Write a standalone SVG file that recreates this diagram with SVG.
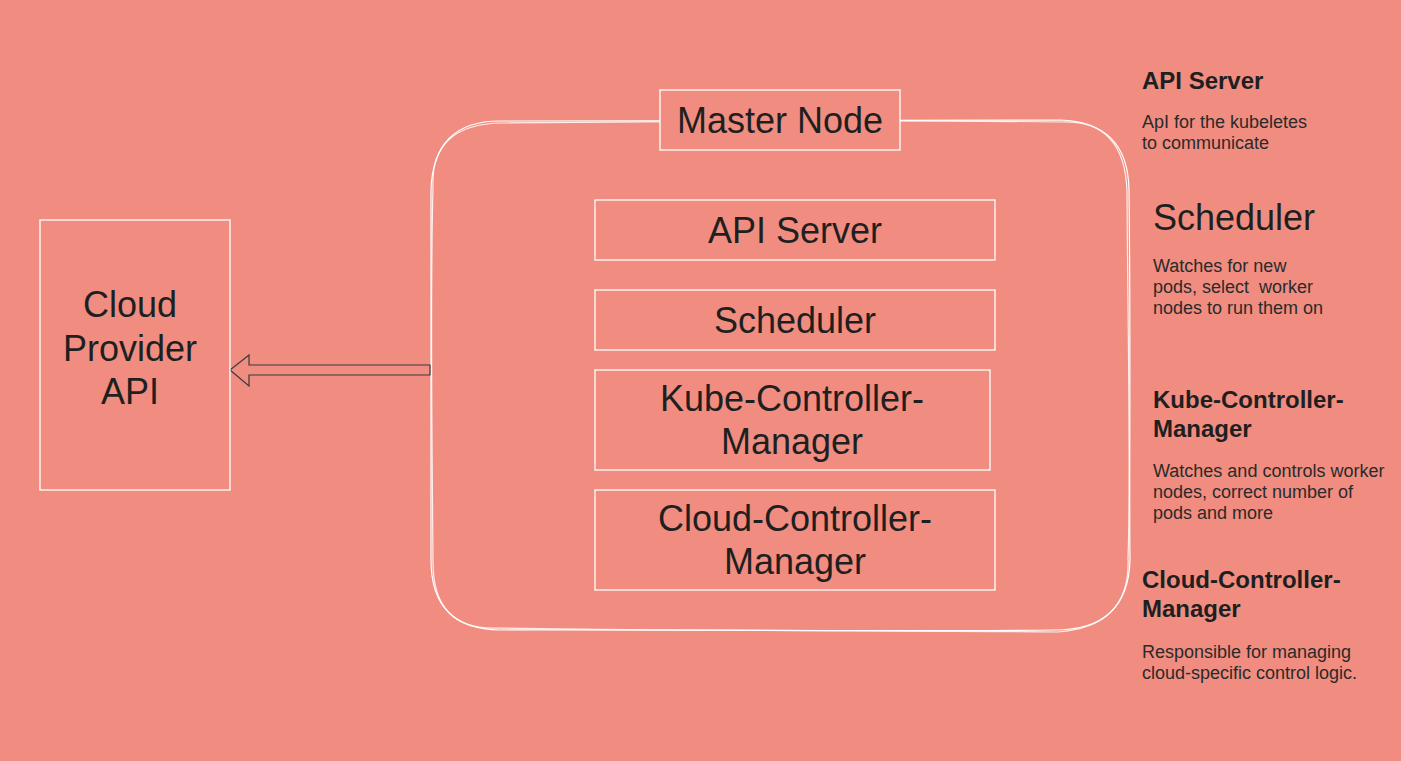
<svg xmlns="http://www.w3.org/2000/svg" width="1401" height="761" viewBox="0 0 1401 761">
<style>
.box{fill:#F08D80;stroke:#ffffff;stroke-width:1.3}
.big{font-family:"Liberation Sans",Arial,sans-serif;font-size:36px;fill:#1f1f1f;text-anchor:middle}
.h{font-family:"Liberation Sans",Arial,sans-serif;font-size:24px;font-weight:bold;fill:#1f1f1f}
.hs{font-family:"Liberation Sans",Arial,sans-serif;font-size:36px;fill:#1f1f1f}
.d{font-family:"Liberation Sans",Arial,sans-serif;font-size:18px;fill:#2a2a2a}
.sk{fill:none;stroke:#ffffff;stroke-width:1.2}
</style>
<rect x="0" y="0" width="1401" height="761" fill="#F08D80"/>
<g id="master-container">
<path class="sk" d="M500 121 C700 119 900 122 1060 120 Q1128 122 1129 190 C1131 350 1129 480 1130 560 Q1128 630 1055 630 C850 632 650 629 500 630 Q431 629 431 560 C430 420 432 300 431 190 Q433 121 500 121 Z"/>
<path class="sk" d="M502 123 C700 121 900 120 1062 122 Q1125 120 1127 192 C1128 350 1131 480 1128 558 Q1131 627 1058 632 C850 630 650 631 498 628 Q433 631 433 562 C432 420 430 300 433 188 Q430 124 502 123 Z" opacity="0.85"/>
</g>
<g id="connectors">
<path d="M430 365 L249 365 L249 355 L230 370 L249 386 L249 375 L430 375 Z" fill="none" stroke="#3a3a3a" stroke-width="1.2" stroke-linejoin="miter"/>
</g>
<g id="cloud-provider-api">
<rect class="box" x="40" y="220" width="190" height="270"/>
<text class="big" x="130" y="317">Cloud</text>
<text class="big" x="130" y="361">Provider</text>
<text class="big" x="130" y="404">API</text>
</g>
<g id="master-node">
<rect class="box" x="660" y="90" width="240" height="60"/>
<text class="big" x="780" y="133">Master Node</text>
</g>
<g id="api-server">
<rect class="box" x="595" y="200" width="400" height="60"/>
<text class="big" x="795" y="243">API Server</text>
</g>
<g id="scheduler">
<rect class="box" x="595" y="290" width="400" height="60"/>
<text class="big" x="795" y="333">Scheduler</text>
</g>
<g id="kube-controller-manager">
<rect class="box" x="595" y="370" width="395" height="100"/>
<text class="big" x="792" y="411">Kube-Controller-</text>
<text class="big" x="792" y="454">Manager</text>
</g>
<g id="cloud-controller-manager">
<rect class="box" x="595" y="490" width="400" height="100"/>
<text class="big" x="795" y="531">Cloud-Controller-</text>
<text class="big" x="795" y="574">Manager</text>
</g>
<g id="legend-api-server">
<text class="h" x="1142" y="89">API Server</text>
<text class="d" x="1142" y="128">ApI for the kubeletes</text>
<text class="d" x="1142" y="149">to communicate</text>
</g>
<g id="legend-scheduler">
<text class="hs" x="1153" y="230">Scheduler</text>
<text class="d" x="1153" y="272">Watches for new</text>
<text class="d" x="1153" y="293" xml:space="preserve">pods, select  worker</text>
<text class="d" x="1153" y="314">nodes to run them on</text>
</g>
<g id="legend-kube-controller-manager">
<text class="h" x="1153" y="408">Kube-Controller-</text>
<text class="h" x="1153" y="437">Manager</text>
<text class="d" x="1153" y="477">Watches and controls worker</text>
<text class="d" x="1153" y="498">nodes, correct number of</text>
<text class="d" x="1153" y="519">pods and more</text>
</g>
<g id="legend-cloud-controller-manager">
<text class="h" x="1142" y="588">Cloud-Controller-</text>
<text class="h" x="1142" y="617">Manager</text>
<text class="d" x="1142" y="658">Responsible for managing</text>
<text class="d" x="1142" y="679">cloud-specific control logic.</text>
</g>
</svg>
